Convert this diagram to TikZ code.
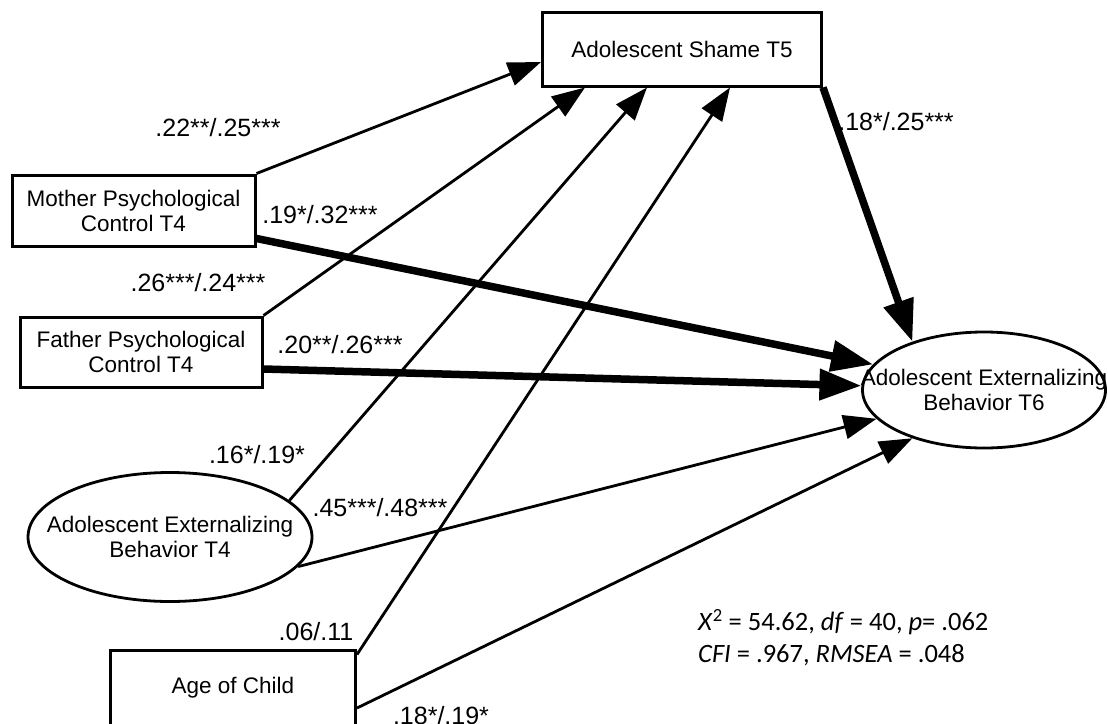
\documentclass[tikz,border=0pt]{standalone}
\usepackage{fontspec}
\setmainfont{Liberation Sans}
\newfontfamily\statsfont{Carlito}
\usetikzlibrary{positioning,arrows.meta,shapes.geometric,calc}

\tikzset{
  box/.style={draw,line width=3pt,inner sep=0pt,align=center,font=\fontsize{22.5}{25}\selectfont},
  oval/.style={draw,ellipse,line width=2.8pt,inner sep=0pt},
  ovaltext/.style={align=center,inner sep=0pt,font=\fontsize{22.5}{25}\selectfont},
  link/.style={line width=2.8pt,-{Triangle[length=33pt,width=24pt]}},
  strong/.style={line width=7.5pt,-{Triangle[length=42pt,width=30pt]}},
  coef/.style={inner sep=0pt,font=\fontsize{25}{27}\selectfont},
  stats/.style={inner sep=0pt,anchor=west,font=\statsfont\fontsize{26.5}{30}\selectfont}
}

\begin{document}
\begin{tikzpicture}[x=1pt,y=-1pt]
    \useasboundingbox (0,0) rectangle (1108,723);
    % variables
    \node[box,minimum width=279pt,minimum height=74pt] (shame) at (682,49) {Adolescent Shame T5};
    \node[box,minimum width=243pt,minimum height=71pt] (mother) at (133.5,210.5) {Mother Psychological\\Control T4};
    \node[box,minimum width=242pt,minimum height=70pt] (father) at (141,352) {Father Psychological\\Control T4};
    \node[oval,minimum width=284pt,minimum height=129pt,
          label={[ovaltext]center:Adolescent Externalizing\\Behavior T4}] (extfour) at (170,537) {};
    \node[box,minimum width=245pt,minimum height=76pt] (age) at (233,688) {Age of Child};
    \node[oval,minimum width=243pt,minimum height=116pt,
          label={[ovaltext]center:Adolescent Externalizing\\Behavior T6}] (extsix) at (984,390) {};
    % paths to shame
    \draw[link] (mother.north east) -- ([yshift=-13pt]shame.west);
    \draw[link] (father.north east) -- ([xshift=-97pt]shame.south);
    \draw[link] (extfour.17) -- ([xshift=-35pt]shame.south);
    \draw[link] ([yshift=-6pt]age.north east) -- ([xshift=48pt]shame.south);
    % paths to externalizing T6
    \draw[strong] (shame.south east) -- (extsix.146);
    \draw[strong] ([yshift=-28pt]mother.east) -- (extsix.167);
    \draw[strong] ([yshift=-17pt]father.east) -- (extsix.178);
    \draw[link] (extfour.347) -- (extsix.195);
    \draw[link] ([yshift=-20pt]age.east) -- (extsix.214);
    % coefficients
    \node[coef] (cmothershame) at (218,128) {.22**/.25***};
    \node[coef] (cmothersix) at (320,215) {.19*/.32***};
    \node[coef] (cfathershame) at (198,283) {.26***/.24***};
    \node[coef] (cfathersix) at (340,345) {.20**/.26***};
    \node[coef] (cfourshame) at (257,455) {.16*/.19*};
    \node[coef] (cfoursix) at (380,508) {.45***/.48***};
    \node[coef] (cageshame) at (316,632) {.06/.11};
    \node[coef] (cagesix) at (441,716) {.18*/.19*};
    \node[coef] (cshamesix) at (896,122) {.18*/.25***};
    % fit
    \node[stats] (chisq) at (698,622) {\textit{X}\textsuperscript{2} = 54.62, \textit{df} = 40, \textit{p}= .062};
    \node[stats] (indices) at (698,655) {\textit{CFI} = .967, \textit{RMSEA} = .048};
\end{tikzpicture}
\end{document}
